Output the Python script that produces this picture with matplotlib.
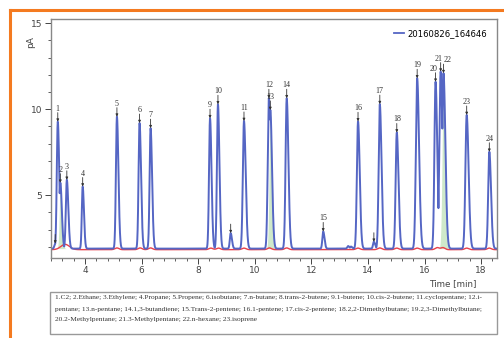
import numpy as np
import matplotlib
matplotlib.use('Agg')
import matplotlib.pyplot as plt
from matplotlib.ticker import MultipleLocator
from matplotlib.lines import Line2D
from matplotlib.patches import Rectangle

# peak table
peak_labels = ['', '1', '2', '3', '4', '5', '6', '7', '9', '10', '', '11', '12', '13', '14',
               '15', '16', '', '17', '18', '19', '20', '21', '22', '23', '24']
peak_times = [2.95, 3.04, 3.13, 3.36, 3.92, 5.13, 5.93, 6.32, 8.42, 8.70, 9.15, 9.62, 10.50, 10.55,
              11.13, 12.42, 13.65, 14.21, 14.42, 15.02, 15.74, 16.39, 16.57, 16.67, 17.49, 18.29]
peak_heights = [2.2, 9.28, 5.73, 5.90, 5.51, 9.57, 9.20, 8.90, 9.48, 10.29, 2.8, 9.32, 10.64, 9.96,
                10.64, 2.9, 9.3, 2.3, 10.3, 8.65, 11.8, 11.6, 12.19, 12.1, 9.67, 7.53]
peak_widths = [0.03, 0.035, 0.035, 0.035, 0.03, 0.035, 0.035, 0.035, 0.035, 0.035, 0.03, 0.04, 0.04, 0.04,
               0.04, 0.03, 0.04, 0.03, 0.04, 0.04, 0.045, 0.04, 0.045, 0.045, 0.045, 0.04]
# label nudges in pixels for crowded peaks
label_dx = {'20': -2, '21': -2, '22': 4}

# small bumps without labels
bump_times = [13.30, 13.40, 14.52, 16.62]
bump_heights = [2.05, 2.02, 2.15, 2.6]

# red integration baseline humps
red_times = [3.30, 5.13, 5.95, 6.32, 8.45, 8.72, 9.62, 10.52, 11.13, 13.65, 14.42, 15.02, 15.74,
             16.45, 16.65, 17.49, 18.29]
red_heights = [2.15, 1.94, 1.94, 1.94, 1.93, 1.93, 1.93, 1.94, 1.94, 1.93, 1.94, 1.93, 1.93,
               1.96, 1.96, 1.93, 1.93]

baseline_blue = 1.90
baseline_red = 1.84
legend_name = '20160826_164646'

caption_lines = [
    '1.C2; 2.Ethane; 3.Ethylene; 4.Propane; 5.Propene; 6.isobutane; 7.n-butane; 8.trans-2-butene; '
    '9.1-butene; 10.cis-2-butene; 11.cyclopentane; 12.i-',
    'pentane; 13.n-pentane; 14.1,3-butandiene; 15.Trans-2-pentene; 16.1-pentene; 17.cis-2-pentene; '
    '18.2,2-Dimethylbutane; 19.2,3-Dimethylbutane;',
    '20.2-Methylpentane; 21.3-Methylpentane; 22.n-hexane; 23.isoprene',
]

t = np.linspace(2.79, 18.57, 8000)


def peak(t0, h, w, base):
    # tailing peak: narrower front, wider back
    s = np.where(t < t0, w, w * 1.5)
    return (h - base) * np.exp(-0.5 * ((t - t0) / s) ** 2)


# overlapping peaks: take the envelope so each apex stays at its read height
signal = np.full_like(t, baseline_blue)
for t0, h, w in zip(peak_times, peak_heights, peak_widths):
    signal = np.maximum(signal, baseline_blue + peak(t0, h, w, baseline_blue))
for t0, h in zip(bump_times, bump_heights):
    signal = np.maximum(signal, baseline_blue + peak(t0, h, 0.03, baseline_blue))

red = np.full_like(t, baseline_red)
for i, (t0, h) in enumerate(zip(red_times, red_heights)):
    w = 0.15 if i == 0 else 0.07
    red += (h - baseline_red) * np.exp(-0.5 * ((t - t0) / w) ** 2)

fig = plt.figure(figsize=(5.04, 3.38), dpi=100)
ax = fig.add_axes([0.1006, 0.2367, 0.886, 0.7063])

# green shaded (integrated) areas
for idx in [2, 13, 23]:
    g = baseline_blue + peak(peak_times[idx], peak_heights[idx], peak_widths[idx], baseline_blue)
    ax.fill_between(t, baseline_blue, g, color='#a8d8a0', alpha=0.55, lw=0)

ax.plot(t, red, color='#e8404a', lw=1.0)
ax.plot(t, signal, color='#5566c4', lw=1.4)

for lab, t0, h in zip(peak_labels, peak_times, peak_heights):
    ax.annotate('', xy=(t0, h), xytext=(0, 9), textcoords='offset pixels',
                arrowprops=dict(arrowstyle='-|>', lw=0.6, color='#333333',
                                mutation_scale=3.5, shrinkA=0, shrinkB=0))
    if lab:
        ax.annotate(lab, xy=(t0, h), xytext=(label_dx.get(lab, 0), 9), textcoords='offset pixels',
                    ha='center', va='bottom', fontsize=5.8, family='Liberation Serif',
                    color='#333333')

ax.set_xlim(2.79, 18.57)
ax.set_ylim(1.355, 15.23)
ax.xaxis.set_major_locator(MultipleLocator(2))
ax.xaxis.set_minor_locator(MultipleLocator(0.4))
ax.yaxis.set_major_locator(MultipleLocator(5))
ax.yaxis.set_minor_locator(MultipleLocator(1))
ax.tick_params(which='major', length=4, width=0.7, labelsize=6.5, colors='#444444', pad=2)
ax.tick_params(which='minor', length=2, width=0.6, colors='#444444')
for s in ax.spines.values():
    s.set_color('#888888')
    s.set_linewidth(1.0)

fig.text(0.06, 0.875, 'pA', rotation=90, fontsize=6.5, color='#444444', ha='center', va='center')
fig.text(453 / 504, 1 - 284 / 338, 'Time [min]', fontsize=6.3, color='#444444', ha='center', va='center')

leg_line = Line2D([], [], color='#5566c4', lw=1.3)
ax.legend([leg_line], [legend_name], loc='upper right', frameon=False, fontsize=6.1,
          handlelength=1.2, handletextpad=0.4, borderaxespad=0.8)

# caption box
fig.patches.append(Rectangle((50 / 504, 1 - 334 / 338), 447 / 504, 42 / 338,
                             transform=fig.transFigure, fill=False, ec='#999999', lw=1.0))
for i, line in enumerate(caption_lines):
    fig.text(55 / 504, 1 - (298 + 11 * i) / 338, line, fontsize=5.35, family='Liberation Serif',
             color='#333333', va='center', ha='left')

# orange frame
fig.lines.append(Line2D([10 / 504, 10 / 504], [0, 1 - 10 / 338], transform=fig.transFigure,
                        color='#f47a20', lw=2.2))
fig.lines.append(Line2D([10 / 504, 1], [1 - 10 / 338, 1 - 10 / 338], transform=fig.transFigure,
                        color='#f47a20', lw=2.2))

fig.savefig('out.png', dpi=100)
